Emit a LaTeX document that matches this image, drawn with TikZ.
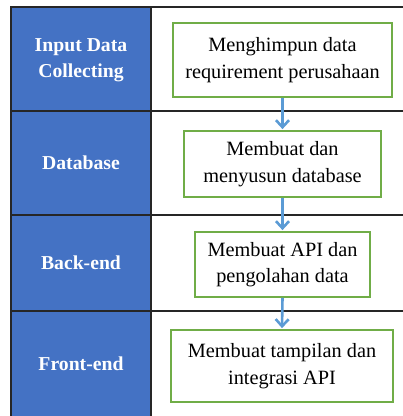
\documentclass[tikz,border=0pt]{standalone}
\usepackage{fontspec}
\setmainfont{Liberation Serif}
\usetikzlibrary{arrows.meta}
\definecolor{lanebg}{HTML}{4472C4}
\definecolor{boxgreen}{HTML}{70AD47}
\definecolor{arrowblue}{HTML}{5B9BD5}
\definecolor{gridline}{HTML}{262626}
\tikzset{
  lanelabel/.style={text=white, font=\fontsize{19.7}{25.5}\selectfont\bfseries, align=center},
  stepbox/.style={draw=boxgreen, line width=1.8pt, fill=white, font=\fontsize{20.3}{26.5}\selectfont, align=center, inner sep=0pt},
  flowarrow/.style={draw=arrowblue, line width=2.6pt, -{Straight Barb[length=7pt,width=13pt,line width=2.6pt]}, shorten >=1pt},
  gridrule/.style={draw=gridline, line width=1.6pt}
}
\begin{document}
\begin{tikzpicture}[x=1pt,y=-1pt]
\useasboundingbox (0,0) rectangle (403,416);
\fill[lanebg] (11,7) rectangle (151,420);
% grid
\draw[gridrule] (11,420) -- (11,7) -- (404,7);
\draw[gridrule] (151,7) -- (151,420);
\draw[gridrule] (11,111) -- (404,111);
\draw[gridrule] (11,215) -- (404,215);
\draw[gridrule] (11,311) -- (404,311);
% lane labels
\node[lanelabel] (l1) at (81,60) {Input Data\\Collecting};
\node[lanelabel] (l2) at (81,163) {Database};
\node[lanelabel] (l3) at (81,263) {Back-end};
\node[lanelabel] (l4) at (81,364) {Front-end};
% steps
\node[stepbox, minimum width=219pt, minimum height=74pt] (b1) at (282.5,60) {Menghimpun data\\requirement perusahaan};
\node[stepbox, minimum width=197pt, minimum height=66pt] (b2) at (282.5,164) {Membuat dan\\menyusun database};
\node[stepbox, minimum width=175pt, minimum height=65pt] (b3) at (282.5,264.5) {Membuat API dan\\pengolahan data};
\node[stepbox, minimum width=222pt, minimum height=72pt] (b4) at (282,366) {Membuat tampilan dan\\integrasi API};
% arrows
\draw[flowarrow] (b1.south) -- (b2.north);
\draw[flowarrow] (b2.south) -- (b3.north);
\draw[flowarrow] (b3.south) -- (b4.north);
\end{tikzpicture}
\end{document}
